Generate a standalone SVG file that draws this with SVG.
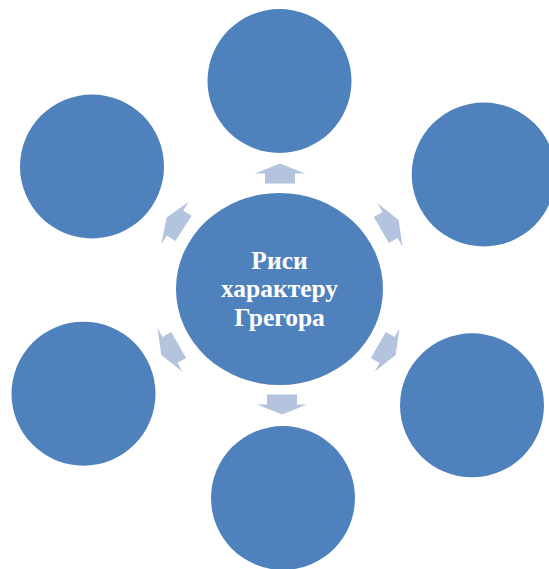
<svg xmlns="http://www.w3.org/2000/svg" width="549" height="569" viewBox="0 0 549 569">
<defs>
<style>
.node{fill:#4F81BD;}
.arrow{fill:#B4C3DE;}
.label{font-family:"Liberation Serif","Times New Roman",serif;font-weight:bold;font-size:25.5px;fill:#FFFFFF;text-anchor:middle;}
</style>
<polygon id="arr" points="-10,-15 0,-15 0,-25 10,0 0,25 0,15 -10,15"/>
</defs>
<rect width="549" height="569" fill="#FFFFFF"/>
<g id="connectors">
<use href="#arr" class="arrow" transform="translate(280,173.5) rotate(-90)"/>
<use href="#arr" class="arrow" transform="translate(390,225) rotate(-30)"/>
<use href="#arr" class="arrow" transform="translate(387,350) rotate(30)"/>
<use href="#arr" class="arrow" transform="translate(282,404.5) rotate(90)"/>
<use href="#arr" class="arrow" transform="translate(170,350) rotate(150)"/>
<use href="#arr" class="arrow" transform="translate(175,223) rotate(-147)"/>
</g>
<g id="center">
<ellipse class="node" cx="279.5" cy="289" rx="103.5" ry="96"/>
<text class="label" x="279.5" y="268.5">Риси<tspan x="279.5" dy="28.5">характеру</tspan><tspan x="279.5" dy="28.5">Грегора</tspan></text>
</g>
<g id="n-top"><circle class="node" cx="279.5" cy="81" r="72"/></g>
<g id="n-topright"><circle class="node" cx="483.7" cy="174.5" r="72"/></g>
<g id="n-bottomright"><circle class="node" cx="472" cy="405.3" r="72"/></g>
<g id="n-bottom"><circle class="node" cx="283" cy="498" r="72"/></g>
<g id="n-bottomleft"><circle class="node" cx="83.5" cy="393.7" r="72"/></g>
<g id="n-topleft"><circle class="node" cx="92" cy="166.5" r="72"/></g>
</svg>
